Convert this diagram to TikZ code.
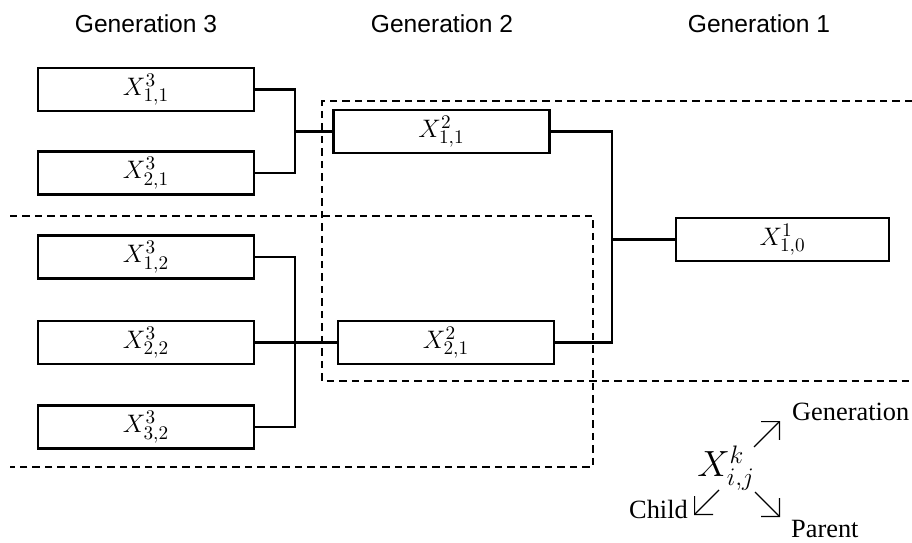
\documentclass[tikz,border=0pt]{standalone}
\usepackage{fontspec}
\setmainfont{Liberation Serif}
\newfontfamily\headfont{Liberation Sans}
\usetikzlibrary{arrows.meta}

\begin{document}
\begin{tikzpicture}[x=0.02cm,y=-0.02cm,
  genbox/.style={draw,line width=1.4pt,minimum width=4.32cm,minimum height=0.86cm,inner sep=0pt,font=\fontsize{15}{17}\selectfont},
  genhead/.style={anchor=base,font=\headfont\fontsize{14}{16}\selectfont},
  link/.style={line width=1.4pt},
  grouping/.style={line width=1.2pt,dash pattern=on 0.15cm off 0.1cm},
  pointer/.style={-{Straight Barb[length=2.6mm,width=5.2mm]},line width=0.7pt},
  word/.style={font=\fontsize{15}{17}\selectfont}]
  \useasboundingbox (0,0) rectangle (912,543);

  \node[genhead] (h3) at (146,33) {Generation 3};
  \node[genhead] (h2) at (442,33) {Generation 2};
  \node[genhead] (h1) at (759,33) {Generation 1};

  \node[genbox] (x311) at (146,89.5) {$X^{3}_{1,1}$};
  \node[genbox] (x321) at (146,173) {$X^{3}_{2,1}$};
  \node[genbox] (x312) at (146,257) {$X^{3}_{1,2}$};
  \node[genbox] (x322) at (146,342.5) {$X^{3}_{2,2}$};
  \node[genbox] (x332) at (146,427) {$X^{3}_{3,2}$};

  \node[genbox] (x211) at (441.5,131.5) {$X^{2}_{1,1}$};
  \node[genbox] (x221) at (446,342.5) {$X^{2}_{2,1}$};

  \node[genbox,minimum width=4.26cm] (x110) at (782.5,239.5) {$X^{1}_{1,0}$};

  \coordinate (j1) at (295,131.5);
  \coordinate (j2) at (295,342.5);
  \coordinate (j3) at (612,239.5);

  \draw[link] (x311.east) -| (j1) |- (x321.east);
  \draw[link] (j1) -- (x211.west);
  \draw[link] (x312.east) -| (j2) |- (x332.east);
  \draw[link] (x322.east) -- (x221.west);
  \draw[link] (x211.east) -| (j3) |- (x221.east);
  \draw[link] (j3) -- (x110.west);

  \draw[grouping] (912,101) -- (322,101) -- (322,381) -- (912,381);
  \draw[grouping] (10,216) -- (593,216) -- (593,467) -- (10,467);

  \node[font=\fontsize{21}{23}\selectfont] (key) at (726,468) {$X^{k}_{i,j}$};
  \node[word,anchor=base west] (kgen) at (786,420) {Generation};
  \node[word,anchor=base west] (kpar) at (785,537) {Parent};
  \node[word,anchor=base east] (kchi) at (694,518) {Child};

  \coordinate (a1) at (754,447);
  \coordinate (b1) at (780,421);
  \coordinate (a2) at (719,490);
  \coordinate (b2) at (694,515);
  \coordinate (a3) at (755,492);
  \coordinate (b3) at (780,517);

  \draw[pointer] (a1) -- (b1);
  \draw[pointer] (a2) -- (b2);
  \draw[pointer] (a3) -- (b3);
\end{tikzpicture}
\end{document}
